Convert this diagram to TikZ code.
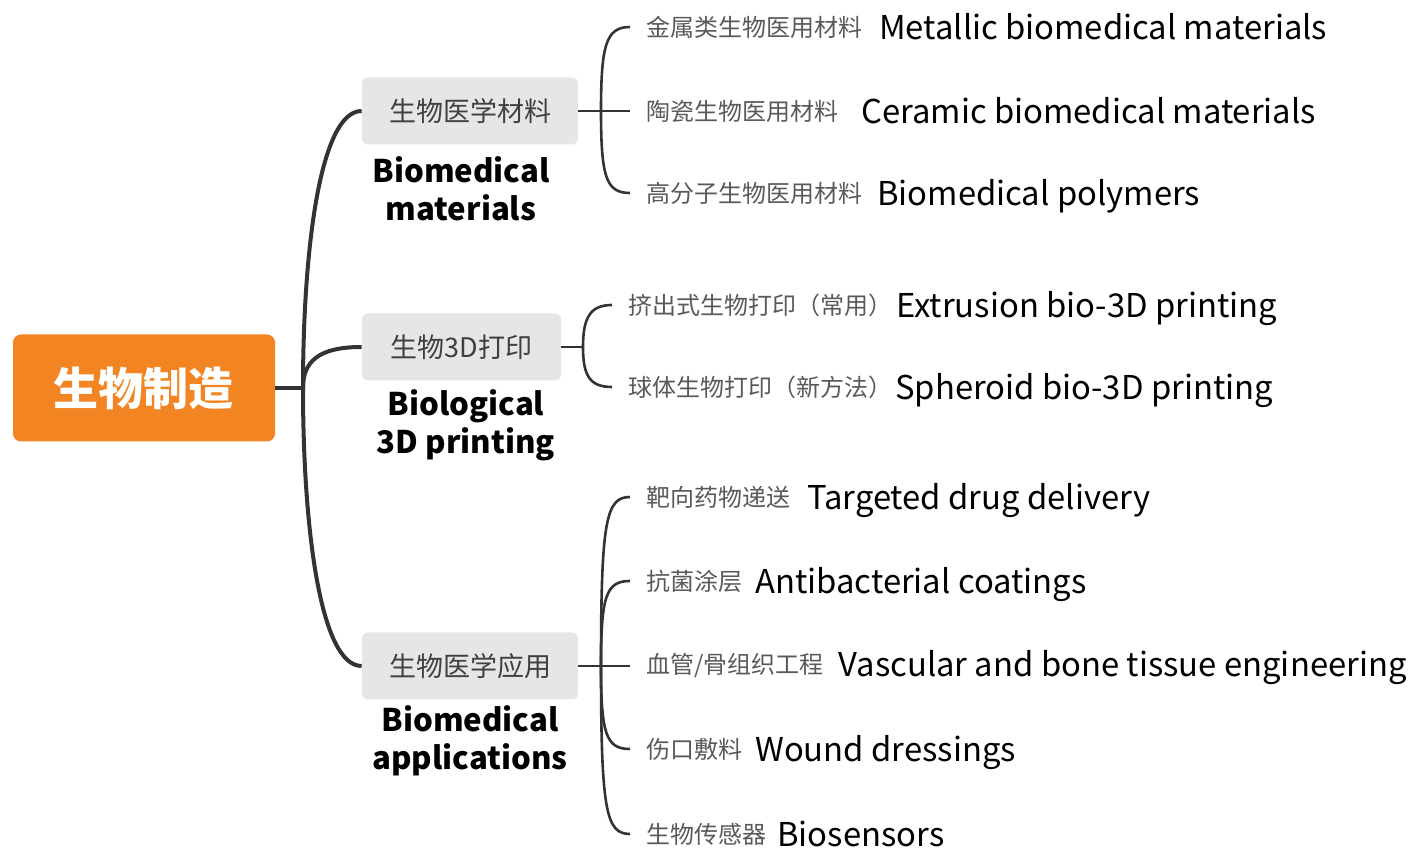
\documentclass[tikz,border=0pt]{standalone}
\usepackage{fontspec}
\setmainfont{Noto Sans CJK SC}
\usetikzlibrary{positioning}
\definecolor{rootorange}{HTML}{F28522}
\definecolor{boxgray}{HTML}{E6E6E6}
\definecolor{linegray}{HTML}{333333}
\definecolor{boxtext}{HTML}{404040}
\definecolor{leaftext}{HTML}{595959}
\begin{document}
\begin{tikzpicture}[x=0.5pt,y=-0.5pt]
		\tikzset{rootbox/.style={fill=rootorange, rounded corners=4pt, inner sep=0pt, minimum width=131pt, minimum height=53.5pt, text=white, font=\fontsize{22.5}{27}\selectfont\bfseries}}
		\tikzset{subbox/.style={fill=boxgray, rounded corners=3pt, inner sep=0pt, minimum height=33.5pt, text=boxtext, font=\fontsize{13.5}{16}\selectfont}}
		\tikzset{enlabel/.style={align=center, inner sep=0pt, font=\fontsize{15.6}{19}\selectfont\bfseries}}
		\tikzset{leaf/.style={anchor=west, inner xsep=8pt, inner ysep=1pt, text=leaftext, font=\fontsize{12}{14}\selectfont}}
		\tikzset{eng/.style={inner xsep=1pt, inner ysep=1pt, yshift=-1.5pt, font=\fontsize{16.4}{20}\selectfont}}
		\tikzset{trunk/.style={draw=linegray, line width=2pt}}
		\tikzset{twig/.style={draw=linegray, line width=1.3pt}}
		\useasboundingbox (0,0) rectangle (1409,849);
		% root and main branches
		\node[rootbox] (rt) at (144,388) {生物制造};
		\node[subbox,minimum width=108pt] (b1) at (470,111) {生物医学材料};
		\node[subbox,minimum width=99.5pt] (b2) at (461.5,347) {生物3D打印};
		\node[subbox,minimum width=108pt] (b3) at (470,666) {生物医学应用};
		\node[enlabel] (l1) at (461,189) {Biomedical\\materials};
		\node[enlabel] (l2) at (466,425) {Biological\\3D printing};
		\node[enlabel] (l3) at (470,741) {Biomedical\\applications};
		\coordinate (j0) at (303,388);
		\coordinate (k1) at (601,111);
		\coordinate (k2) at (583,347);
		\coordinate (k3) at (601,666);
		% materials
		\node[leaf] (c11) at (630,27) {金属类生物医用材料};
		\node[leaf] (c12) at (630,111) {陶瓷生物医用材料};
		\node[leaf] (c13) at (630,193) {高分子生物医用材料};
		\node[eng,base right=-1pt of c11] (e11) {Metallic biomedical materials};
		\node[eng,base right=2pt of c12] (e12) {Ceramic biomedical materials};
		\node[eng,base right=-2pt of c13] (e13) {Biomedical polymers};
		% 3D printing
		\node[leaf] (c21) at (612,305) {挤出式生物打印（常用）};
		\node[leaf] (c22) at (612,387) {球体生物打印（新方法）};
		\node[eng,base right=-7.5pt of c21] (e21) {Extrusion bio-3D printing};
		\node[eng,base right=-8pt of c22] (e22) {Spheroid bio-3D printing};
		% applications
		\node[leaf] (c31) at (630,497) {靶向药物递送};
		\node[leaf] (c32) at (630,581) {抗菌涂层};
		\node[leaf] (c33) at (630,666) {血管/骨组织工程};
		\node[leaf] (c34) at (630,749) {伤口敷料};
		\node[leaf] (c35) at (630,834) {生物传感器};
		\node[eng,base right=-1pt of c31] (e31) {Targeted drug delivery};
		\node[eng,base right=-3pt of c32] (e32) {Antibacterial coatings};
		\node[eng,base right=-2pt of c33] (e33) {Vascular and bone tissue engineering};
		\node[eng,base right=-3pt of c34] (e34) {Wound dressings};
		\node[eng,base right=-4pt of c35] (e35) {Biosensors};
		% connectors
		\draw[trunk] (rt.east) -- (j0);
		\draw[trunk] (j0) .. controls (303,250) and (320,111) .. (b1.west);
		\draw[trunk] (j0) .. controls (303,362) and (318,347) .. (b2.west);
		\draw[trunk] (j0) .. controls (303,526) and (320,666) .. (b3.west);
		\draw[twig] (b1.east) -- (k1) -- (c12.west);
		\draw[twig] (k1) .. controls (601,45) and (606,27) .. (c11.west);
		\draw[twig] (k1) .. controls (601,177) and (606,193) .. (c13.west);
		\draw[twig] (b2.east) -- (k2);
		\draw[twig] (k2) .. controls (583,318) and (590,305) .. (c21.west);
		\draw[twig] (k2) .. controls (583,376) and (590,387) .. (c22.west);
		\draw[twig] (b3.east) -- (k3) -- (c33.west);
		\draw[twig] (k3) .. controls (601,520) and (606,497) .. (c31.west);
		\draw[twig] (k3) .. controls (601,596) and (606,581) .. (c32.west);
		\draw[twig] (k3) .. controls (601,734) and (606,749) .. (c34.west);
		\draw[twig] (k3) .. controls (601,811) and (606,834) .. (c35.west);
	\end{tikzpicture}
\end{document}
